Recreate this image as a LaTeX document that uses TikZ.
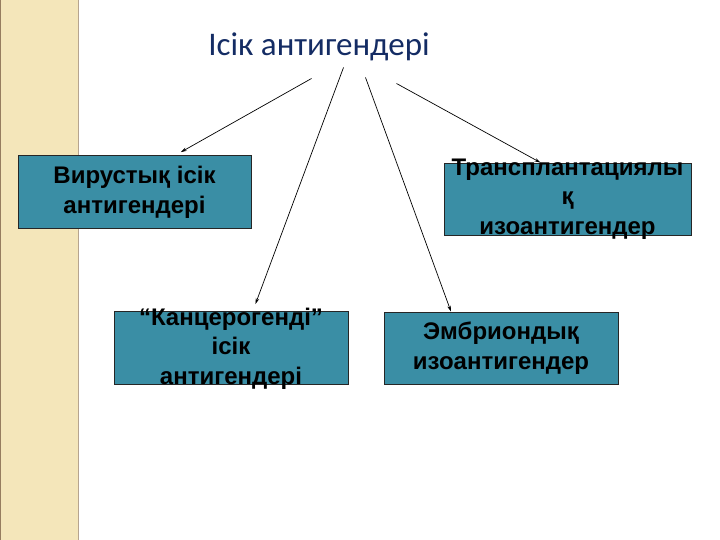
\documentclass[tikz,border=0pt]{standalone}
\usepackage{fontspec}
\setmainfont{Liberation Sans}
\newfontfamily\titlefont{Carlito}
\usetikzlibrary{positioning,calc,arrows.meta}
\definecolor{boxTeal}{RGB}{58,142,165}
\definecolor{titleBlue}{RGB}{20,44,100}
\definecolor{stripeBeige}{RGB}{244,230,186}
\definecolor{stripeBrown}{RGB}{150,125,95}

\begin{document}
\begin{tikzpicture}[
  x=1pt, y=-1pt,
  title/.style={font=\titlefont\fontsize{33}{38}\selectfont, text=titleBlue, anchor=base},
  boxtext/.style={font=\bfseries\fontsize{24}{29.5}\selectfont, align=center, inner sep=0pt}
]
	\tikzstyle{antigenBox} = [rectangle, draw=black!85, line width=0.8pt, fill=boxTeal, minimum width=233pt, minimum height=73pt, inner sep=0pt]
	\tikzstyle{arrowLine} = [draw=black, line width=0.7pt, -{Stealth[length=6pt, width=3.5pt]}]

	\useasboundingbox (0,0) rectangle (720,540);
	\fill[white] (0,0) rectangle (720,540);

	% side band
	\fill[stripeBeige] (0,0) rectangle (78,540);
	\draw[stripeBrown, line width=1pt] (0.5,0) -- (0.5,540);
	\draw[stripeBrown!70, line width=1pt] (78.5,0) -- (78.5,540);

	\node (title) [title] at (319,56) {Ісік антигендері};

	\node (virusBox) [antigenBox] at (134.5,191.5) {};
	\node [boxtext] at ([yshift=-1pt]virusBox) {Вирустық ісік\\антигендері};

	\node (transBox) [antigenBox, minimum width=247pt, minimum height=72pt] at (567.5,199) {};
	\node [boxtext] at (transBox) {Трансплантациялы\\қ\\изоантигендер};

	\node (cancerBox) [antigenBox, minimum width=234pt] at (231,347.5) {};
	\node [boxtext] at ([yshift=-1pt]cancerBox) {“Канцерогенді”\\ісік\\антигендері};

	\node (embryoBox) [antigenBox, minimum width=234pt, minimum height=72pt] at (501,348) {};
	\node [boxtext] at (embryoBox) {Эмбриондық\\изоантигендер};

	\coordinate (startVirus) at (311.5,78.5);
	\coordinate (startCancer) at (343.5,67.5);
	\coordinate (startEmbryo) at (365.5,77.5);
	\coordinate (startTrans) at (396.5,83.5);

	\draw[arrowLine, shorten >=5pt] (startVirus) -- ([xshift=42pt]virusBox.north);
	\draw[arrowLine, shorten >=7pt] (startCancer) -- ([xshift=22pt]cancerBox.north);
	\draw[arrowLine] (startEmbryo) -- ([xshift=-50pt]embryoBox.north);
	\draw[arrowLine] (startTrans) -- ([xshift=-27pt]transBox.north);
\end{tikzpicture}
\end{document}
